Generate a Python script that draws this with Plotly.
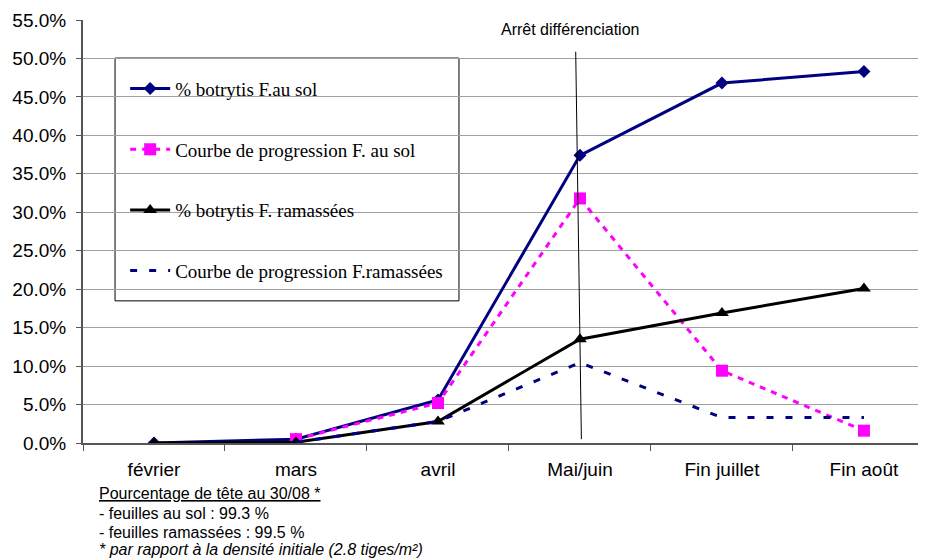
import plotly.graph_objects as go

categories = ["février", "mars", "avril", "Mai/juin", "Fin juillet", "Fin août"]
sol = [0.0, 0.005, 0.056, 0.374, 0.468, 0.483]
prog_sol = [None, 0.005, 0.052, 0.318, 0.094, 0.016]
ramassees = [0.0, 0.001, 0.028, 0.135, 0.169, 0.201]
prog_ram = [None, 0.001, 0.028, 0.1045, 0.033, 0.033]
y_ticks = [i * 0.05 for i in range(12)]

names = ["% botrytis F.au sol", "Courbe de progression F. au sol",
         "% botrytis F. ramassées", "Courbe de progression F.ramassées"]

fig = go.Figure()
fig.add_trace(go.Scatter(x=categories, y=sol, name=names[0], mode="lines+markers",
                         line=dict(color="#000080", width=3),
                         marker=dict(symbol="diamond", size=10, color="#000080"),
                         legendgroup="a"))
fig.add_trace(go.Scatter(x=categories, y=prog_sol, name=names[1], mode="lines+markers",
                         line=dict(color="#FF00FF", width=3, dash="6px,6px"),
                         marker=dict(symbol="square", size=12, color="#FF00FF"),
                         legendgroup="b"))
fig.add_trace(go.Scatter(x=categories, y=ramassees, name=names[2], mode="lines+markers",
                         line=dict(color="#000000", width=3),
                         marker=dict(symbol="triangle-up", size=12, color="#000000"),
                         legendgroup="c"))
fig.add_trace(go.Scatter(x=categories, y=prog_ram, name=names[3], mode="lines",
                         line=dict(color="#000080", width=3, dash="7px,12px"),
                         legendgroup="d"))

# vertical line "Arrêt différenciation"
fig.add_shape(type="line", xref="x", yref="paper", x0=2.97, x1=3.01, y0=0.925, y1=0.009,
              line=dict(color="black", width=1))
fig.add_annotation(x=2.93, xref="x", y=0.953, yref="paper", text="Arrêt différenciation",
                   showarrow=False, font=dict(family="Liberation Sans, Arial", size=16, color="black"),
                   yanchor="bottom")

# legend box
fig.add_shape(type="rect", xref="paper", yref="paper", x0=0.038, x1=0.446, y0=0.336, y1=0.910,
              line=dict(color="black", width=1), fillcolor="white", layer="below")

notes = [
    ("<u>Pourcentage de tête au 30/08 *</u>", 493),
    ("- feuilles au sol : 99.3 %", 513),
    ("- feuilles ramassées : 99.5 %", 532),
    ("<i>* par rapport à la densité initiale (2.8 tiges/m²)</i>", 549),
]
for txt, ypx in notes:
    fig.add_annotation(x=(97 - 83) / 843, xref="paper", y=(443 - ypx) / 423, yref="paper",
                       text=txt, showarrow=False, xanchor="left", yanchor="middle",
                       font=dict(family="Liberation Sans, Arial", size=16, color="black"))

fig.update_layout(
    width=918, height=551,
    margin=dict(l=75, r=0, t=12, b=116),
    paper_bgcolor="white", plot_bgcolor="white",
    showlegend=True,
    legend=dict(x=0.050, y=0.8826, xanchor="left", yanchor="top",
                bgcolor="rgba(0,0,0,0)", borderwidth=0,
                font=dict(family="Liberation Serif, Times New Roman", size=19, color="black"),
                tracegroupgap=33, itemwidth=40),
    xaxis=dict(type="category", range=[-0.5, 5.437], tickson="boundaries",
               ticks="outside", ticklen=6, tickcolor="#555", showgrid=False,
               showline=True, linecolor="#555", linewidth=2,
               tickfont=dict(family="Liberation Sans, Arial", size=19, color="black"),
               ticklabelstandoff=8),
    yaxis=dict(range=[0, 0.55], tickvals=y_ticks, tickformat=".1%",
               showgrid=True, gridcolor="#a0a0a0", gridwidth=1,
               ticks="outside", ticklen=5, tickcolor="#555",
               showline=True, linecolor="#555", linewidth=2, zeroline=False,
               ticklabelstandoff=6,
               tickfont=dict(family="Liberation Sans, Arial", size=19, color="black")),
)

fig.write_html("out.html")
